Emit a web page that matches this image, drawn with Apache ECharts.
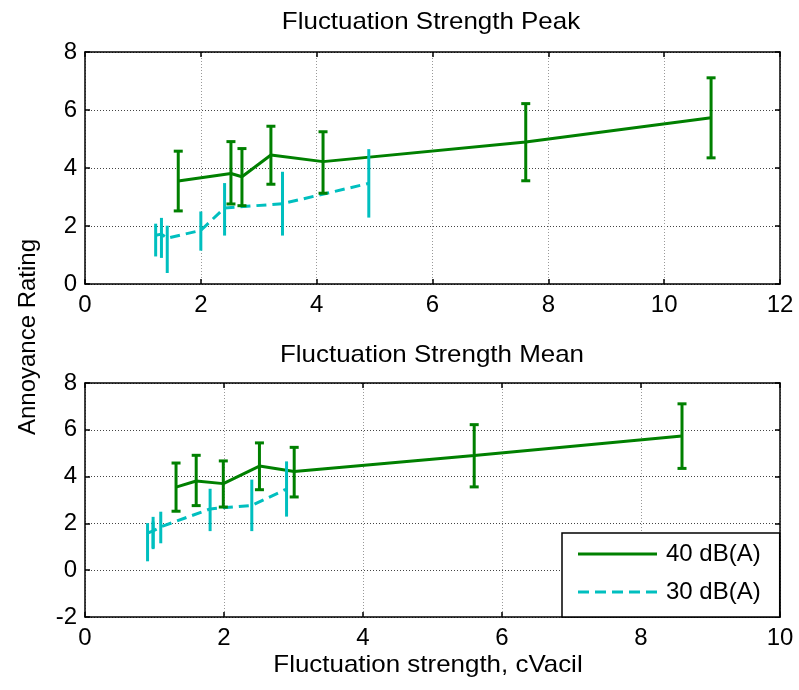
<!DOCTYPE html>
<html>
<head>
<meta charset="utf-8">
<script src="https://cdn.jsdelivr.net/npm/echarts@6/dist/echarts.min.js"></script>
<style>
  html, body { margin: 0; padding: 0; background: #fff; }
  #chart { width: 799px; height: 690px; }
</style>
</head>
<body>
<div id="chart"></div>
<script>
// Annoyance ratings (mean with lower / upper error limits) for two sound levels
const rating40 = [3.55, 3.81, 3.70, 4.45, 4.22, 4.90, 5.73];
const low40    = [2.52, 2.76, 2.70, 3.44, 3.13, 3.56, 4.35];
const high40   = [4.58, 4.91, 4.67, 5.44, 5.25, 6.22, 7.11];
const peakX40  = [1.61, 2.52, 2.71, 3.21, 4.11, 7.61, 10.81];
const meanX40  = [1.31, 1.60, 1.99, 2.51, 3.01, 5.60, 8.59];

const rating30 = [1.68, 1.72, 1.58, 1.85, 2.62, 2.77, 3.47];
const low30    = [0.95, 0.90, 0.38, 1.15, 1.67, 1.67, 2.29];
const high30   = [2.08, 2.28, 2.01, 2.50, 3.48, 3.87, 4.65];
const peakX30  = [1.22, 1.32, 1.42, 2.00, 2.41, 3.41, 4.90];
const meanX30  = [0.98, 0.98, 0.90, 1.09, 1.80, 2.40, 2.90];

const seriesNames = ['40 dB(A)', '30 dB(A)'];
const panelTitles = ['Fluctuation Strength Peak', 'Fluctuation Strength Mean'];
const xLabel = 'Fluctuation strength, cVacil';
const yLabel = 'Annoyance Rating';

const GREEN = '#008000';
const CYAN = '#00bfbf';
const FONT = 'Liberation Sans, Arial, sans-serif';
const FS = 24;
const WIDE = 1.08;   // slightly widened lettering for titles and axis names

function pairs(xs, ys) { return xs.map((x, i) => [x, ys[i]]).sort((a, b) => a[0] - b[0]); }
function bars(xs, lo, hi) { return xs.map((x, i) => [x, lo[i], hi[i]]); }

function errorBarSeries(name, idx, data, color, capHalf) {
  return {
    name: name,
    type: 'custom',
    xAxisIndex: idx,
    yAxisIndex: idx,
    data: data,
    silent: true,
    z: 4,
    renderItem: function (params, api) {
      const x = api.value(0);
      const p0 = api.coord([x, api.value(1)]);
      const p1 = api.coord([x, api.value(2)]);
      const style = { stroke: color, lineWidth: 3 };
      const children = [{
        type: 'line', shape: { x1: p0[0], y1: p0[1], x2: p1[0], y2: p1[1] }, style: style
      }];
      if (capHalf > 0) {
        children.push({ type: 'line', shape: { x1: p0[0] - capHalf, y1: p0[1], x2: p0[0] + capHalf, y2: p0[1] }, style: style });
        children.push({ type: 'line', shape: { x1: p1[0] - capHalf, y1: p1[1], x2: p1[0] + capHalf, y2: p1[1] }, style: style });
      }
      return { type: 'group', children: children };
    }
  };
}

function lineSeries(name, idx, data, color, dashed) {
  return {
    name: name,
    type: 'line',
    xAxisIndex: idx,
    yAxisIndex: idx,
    data: data,
    symbol: 'none',
    silent: true,
    lineStyle: { color: color, width: 3, type: dashed ? [10, 6] : 'solid' },
    itemStyle: { color: color },
    z: 3
  };
}

function xAxes(gridIndex, max) {
  const base = {
    gridIndex: gridIndex, type: 'value', min: 0, max: max, interval: 2,
    axisLine: { show: true, onZero: false, lineStyle: { color: '#000', width: 1.5 } },
    axisTick: { show: true, inside: true, length: 5, lineStyle: { color: '#000', width: 1.5 } }
  };
  return [
    Object.assign({}, base, {
      position: 'bottom',
      axisLabel: { color: '#000', fontSize: FS, fontFamily: FONT, margin: 9 },
      splitLine: { show: true, lineStyle: { color: '#999', type: [1, 2], width: 1 } }
    }),
    Object.assign({}, base, {
      position: 'top',
      axisLabel: { show: false },
      splitLine: { show: false }
    })
  ];
}

function yAxes(gridIndex, min, max) {
  const base = {
    gridIndex: gridIndex, type: 'value', min: min, max: max, interval: 2,
    axisLine: { show: true, onZero: false, lineStyle: { color: '#000', width: 1.5 } },
    axisTick: { show: true, inside: true, length: 5, lineStyle: { color: '#000', width: 1.5 } }
  };
  return [
    Object.assign({}, base, {
      position: 'left',
      axisLabel: { color: '#000', fontSize: FS, fontFamily: FONT, margin: 8 },
      splitLine: { show: true, lineStyle: { color: '#444', type: [1, 2], width: 1 } }
    }),
    Object.assign({}, base, {
      position: 'right',
      axisLabel: { show: false },
      splitLine: { show: false }
    })
  ];
}

function label(text, x, y, rotation, scaleX) {
  return {
    type: 'text', x: x, y: y, rotation: rotation || 0, scaleX: scaleX || 1, silent: true,
    style: { text: text, fill: '#000', font: FS + 'px ' + FONT, align: 'center', verticalAlign: 'middle' }
  };
}

// legend glyphs: a solid bar and a five-dash bar
const solidIcon = 'path://M0,0h79v3h-79z';
const dashIcon = 'path://M0,0h11v3h-11z M17,0h11v3h-11z M34,0h11v3h-11z M51,0h11v3h-11z M68,0h11v3h-11z';

const chart = echarts.init(document.getElementById('chart'), null, { renderer: 'canvas' });

// axes: per panel a labelled bottom/left pair and a mirrored top/right pair (boxed frame)
const xAxisList = [xAxes(0, 12)[0], xAxes(1, 10)[0], xAxes(0, 12)[1], xAxes(1, 10)[1]];
const yAxisList = [yAxes(0, 0, 8)[0], yAxes(1, -2, 8)[0], yAxes(0, 0, 8)[1], yAxes(1, -2, 8)[1]];

chart.setOption({
  animation: false,
  backgroundColor: '#fff',
  grid: [
    { left: 85, top: 52, width: 695, height: 232 },
    { left: 85, top: 383, width: 695, height: 234 }
  ],
  xAxis: xAxisList,
  yAxis: yAxisList,
  legend: {
    data: [
      { name: seriesNames[0], icon: solidIcon, itemStyle: { color: GREEN } },
      { name: seriesNames[1], icon: dashIcon, itemStyle: { color: CYAN } }
    ],
    orient: 'vertical',
    left: 562, top: 533,
    padding: [9, 19, 13, 16],
    itemGap: 14,
    itemWidth: 79, itemHeight: 3,
    backgroundColor: '#fff',
    borderColor: '#000', borderWidth: 1.5, borderRadius: 0,
    textStyle: { color: '#000', fontSize: FS, fontFamily: FONT, padding: [0, 0, 0, 4] },
    selectedMode: false
  },
  graphic: [
    label(panelTitles[0], 431, 22, 0, WIDE),
    label(panelTitles[1], 432, 355, 0, WIDE),
    label(xLabel, 428, 665, 0, WIDE),
    label(yLabel, 28, 337, Math.PI / 2, 1)
  ],
  series: [
    lineSeries(seriesNames[0], 0, pairs(peakX40, rating40), GREEN, false),
    errorBarSeries(seriesNames[0], 0, bars(peakX40, low40, high40), GREEN, 4.5),
    lineSeries(seriesNames[1], 0, pairs(peakX30, rating30), CYAN, true),
    errorBarSeries(seriesNames[1], 0, bars(peakX30, low30, high30), CYAN, 0),

    lineSeries(seriesNames[0], 1, pairs(meanX40, rating40), GREEN, false),
    errorBarSeries(seriesNames[0], 1, bars(meanX40, low40, high40), GREEN, 4.5),
    lineSeries(seriesNames[1], 1, pairs(meanX30, rating30), CYAN, true),
    errorBarSeries(seriesNames[1], 1, bars(meanX30, low30, high30), CYAN, 0)
  ]
});
</script>
</body>
</html>
